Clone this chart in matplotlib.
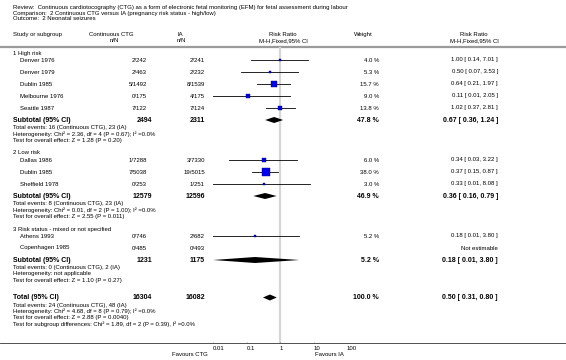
import matplotlib.pyplot as plt
import numpy as np
from matplotlib.patches import Polygon

plt.rcParams.update({
    "font.family": "Liberation Sans",
    "font.size": 4.3,
})

# ---- data ----
title_lines = [
    "Review:  Continuous cardiotocography (CTG) as a form of electronic fetal monitoring (EFM) for fetal assessment during labour",
    "Comparison:  2 Continuous CTG versus IA (pregnancy risk status - high/low)",
    "Outcome:  2 Neonatal seizures",
]
group_names = ["1 High risk", "2 Low risk", "3 Risk status - mixed or not specified"]

study_group = [0, 0, 0, 0, 0, 1, 1, 1, 2, 2]
study_names = ["Denver 1976", "Denver 1979", "Dublin 1985", "Melbourne 1976", "Seattle 1987",
               "Dallas 1986", "Dublin 1985", "Sheffield 1978",
               "Athens 1993", "Copenhagen 1985"]
ctg_events = [2, 2, 5, 0, 7, 1, 7, 0, 0, 0]
ctg_total = [242, 463, 1492, 175, 122, 7288, 5038, 253, 746, 485]
ia_events = [2, 2, 8, 4, 7, 3, 19, 1, 2, 0]
ia_total = [241, 232, 1539, 175, 124, 7330, 5015, 251, 682, 493]
weights = [4.0, 5.3, 15.7, 9.0, 13.8, 6.0, 38.0, 3.0, 5.2, np.nan]
rr = [1.00, 0.50, 0.64, 0.11, 1.02, 0.34, 0.37, 0.33, 0.18, np.nan]
rr_lo = [0.14, 0.07, 0.21, 0.01, 0.37, 0.03, 0.15, 0.01, 0.01, np.nan]
rr_hi = [7.01, 3.53, 1.97, 2.05, 2.81, 3.22, 0.87, 8.08, 3.80, np.nan]

sub_ctg_n = [2494, 12579, 1231]
sub_ia_n = [2311, 12596, 1175]
sub_weight = [47.8, 46.9, 5.2]
sub_rr = [0.67, 0.36, 0.18]
sub_lo = [0.36, 0.16, 0.01]
sub_hi = [1.24, 0.79, 3.80]
sub_stats = [
    ["Total events: 16 (Continuous CTG), 23 (IA)",
     "Heterogeneity: Chi\u00b2 = 2.36, df = 4 (P = 0.67); I\u00b2 =0.0%",
     "Test for overall effect: Z = 1.28 (P = 0.20)"],
    ["Total events: 8 (Continuous CTG), 23 (IA)",
     "Heterogeneity: Chi\u00b2 = 0.01, df = 2 (P = 1.00); I\u00b2 =0.0%",
     "Test for overall effect: Z = 2.55 (P = 0.011)"],
    ["Total events: 0 (Continuous CTG), 2 (IA)",
     "Heterogeneity: not applicable",
     "Test for overall effect: Z = 1.10 (P = 0.27)"],
]
total_ctg_n = 16304
total_ia_n = 16082
total_weight = 100.0
total_rr, total_lo, total_hi = 0.50, 0.31, 0.80
total_stats = [
    "Total events: 24 (Continuous CTG), 48 (IA)",
    "Heterogeneity: Chi\u00b2 = 4.68, df = 8 (P = 0.79); I\u00b2 =0.0%",
    "Test for overall effect: Z = 2.88 (P = 0.0040)",
    "Test for subgroup differences: Chi\u00b2 = 1.89, df = 2 (P = 0.39), I\u00b2 =0.0%",
]
tick_values = [0.01, 0.1, 1, 10, 100]
tick_labels = ["0.01", "0.1", "1", "10", "100"]

# ---- layout (pixels) ----
W, H = 566, 360
X_LEFT, X_STUDY = 13, 20
X_CTG, X_CTG_SUB = 147, 152
X_IA = 205
X_WEIGHT, X_RR = 379, 498
PLOT_L, PLOT_R = 213, 347
Y_AXIS = 343

BOLD = dict(fontweight="bold", fontsize=5.0)

fig = plt.figure(figsize=(W / 100, H / 100), dpi=100)
ax = fig.add_axes([0, 0, 1, 1])
ax.set_xlim(0, W)
ax.set_ylim(H, 0)
ax.axis("off")

fx = fig.add_axes([PLOT_L / W, 0, (PLOT_R - PLOT_L) / W, 1])
fx.set_xscale("log")
fx.set_xlim(tick_values[0], tick_values[-1])
fx.set_ylim(H, 0)
fx.axis("off")
fx.patch.set_alpha(0)


def txt(x, y, s, ha="left", **kw):
    ax.text(x, y, s, ha=ha, va="center", color="black", **kw)


def fmt_rr(e, lo, hi):
    return f"{e:.2f} [ {lo:.2f}, {hi:.2f} ]"


def diamond(y, e, lo, hi, half=3.0):
    fx.add_patch(Polygon([(lo, y), (e, y - half), (hi, y), (e, y + half)],
                         closed=True, color="black", lw=0, zorder=4))


# titles
for i, line in enumerate(title_lines):
    txt(X_LEFT, 7 + 6 * i, line)

# headers
txt(X_LEFT, 34.5, "Study or subgroup")
txt(89, 34.5, "Continuous CTG")
txt(110, 40.5, "n/N")
txt(177, 34.5, "IA")
txt(177, 40.5, "n/N")
txt(283, 34.5, "Risk Ratio", ha="center")
txt(283, 40.5, "M-H,Fixed,95% CI", ha="center")
txt(354, 34.5, "Weight")
txt(474, 34.5, "Risk Ratio", ha="center")
txt(474, 40.5, "M-H,Fixed,95% CI", ha="center")
ax.plot([0, W], [46.5, 46.5], color="#9a9a9a", lw=1.6, solid_capstyle="butt")

# reference line at RR = 1
fx.vlines(1, 46.5, Y_AXIS, color="#d6d6d6", lw=1.6, zorder=1)

y = 53
for g, gname in enumerate(group_names):
    txt(X_LEFT, y, gname)
    idx = [i for i, sg in enumerate(study_group) if sg == g]
    y += 7
    for k, i in enumerate(idx):
        if k > 0:
            y += 12
        txt(X_STUDY, y, study_names[i])
        txt(X_CTG, y, f"{ctg_events[i]}/{ctg_total[i]}", ha="right")
        txt(X_IA, y, f"{ia_events[i]}/{ia_total[i]}", ha="right")
        if np.isnan(rr[i]):
            txt(X_RR, y, "Not estimable", ha="right")
            continue
        txt(X_WEIGHT, y, f"{weights[i]:.1f} %", ha="right")
        txt(X_RR, y, fmt_rr(rr[i], rr_lo[i], rr_hi[i]), ha="right")
        fx.plot([rr_lo[i], rr_hi[i]], [y, y], color="black", lw=0.6, zorder=3)
        side = 1.3 * np.sqrt(weights[i]) * 0.72
        fx.plot(rr[i], y, marker="s", markersize=side, color="#0000ee",
                markeredgecolor="#00007a", markeredgewidth=0.3, zorder=4)
    y += 12
    txt(X_LEFT, y, "Subtotal (95% CI)", **BOLD)
    txt(X_CTG_SUB, y, f"{sub_ctg_n[g]}", ha="right", **BOLD)
    txt(X_IA, y, f"{sub_ia_n[g]}", ha="right", **BOLD)
    txt(X_WEIGHT, y, f"{sub_weight[g]:.1f} %", ha="right", **BOLD)
    txt(X_RR, y, fmt_rr(sub_rr[g], sub_lo[g], sub_hi[g]), ha="right", **BOLD)
    diamond(y, sub_rr[g], sub_lo[g], sub_hi[g])
    for k, line in enumerate(sub_stats[g]):
        txt(X_LEFT, y + 7.5 + 6.5 * k, line)
    y += 7.5 + 6.5 * 2 + 12.5

# overall total
y += 4.5
txt(X_LEFT, y, "Total (95% CI)", **BOLD)
txt(X_CTG_SUB, y, f"{total_ctg_n}", ha="right", **BOLD)
txt(X_IA, y, f"{total_ia_n}", ha="right", **BOLD)
txt(X_WEIGHT, y, f"{total_weight:.1f} %", ha="right", **BOLD)
txt(X_RR, y, fmt_rr(total_rr, total_lo, total_hi), ha="right", **BOLD)
diamond(y, total_rr, total_lo, total_hi)
for k, line in enumerate(total_stats):
    txt(X_LEFT, y + 7.5 + 6.5 * k, line)

# bottom axis
ax.plot([0, W], [Y_AXIS, Y_AXIS], color="#333333", lw=0.6)
for v, lab in zip(tick_values, tick_labels):
    fx.vlines(v, Y_AXIS - 1.5, Y_AXIS, color="#555555", lw=0.4)
    fx.text(v, Y_AXIS + 5.5, lab, ha="left", va="center", fontsize=4.3)
txt(208, Y_AXIS + 12, "Favours CTG", ha="right")
txt(315, Y_AXIS + 12, "Favours IA")

fig.savefig("out.png", dpi=100, facecolor="white")
